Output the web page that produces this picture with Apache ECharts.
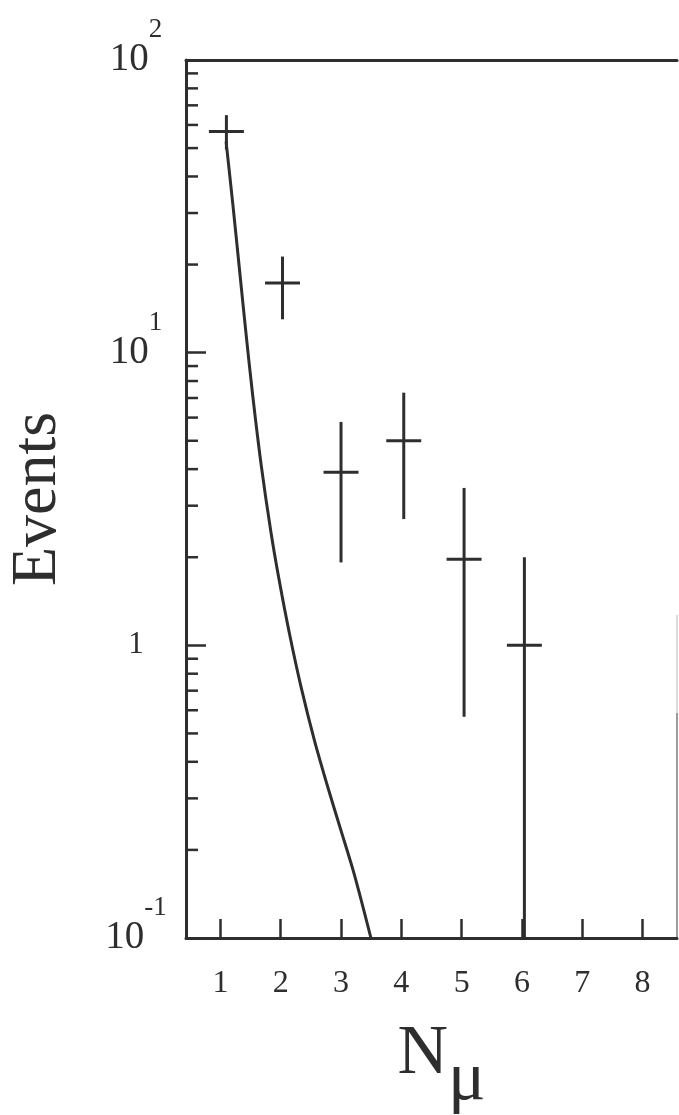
<!DOCTYPE html>
<html>
<head>
<meta charset="utf-8">
<script src="https://cdn.jsdelivr.net/npm/echarts@6/dist/echarts.min.js"></script>
<style>
  html, body { margin: 0; padding: 0; background: #fff; }
  #chart { width: 679px; height: 1115px; }
</style>
</head>
<body>
<div id="chart"></div>
<script>
// Muon multiplicity: observed events (with error bars) and expected curve
const nMu      = [1.1, 2.03, 3.0, 4.04, 5.04, 6.04];
const events   = [57, 17.3, 3.9, 5.0, 1.97, 1.0];
const errLow   = [49.4, 13.0, 1.92, 2.7, 0.57, 0];
const errHigh  = [64.8, 21.3, 5.8, 7.3, 3.45, 2.0];

// expected distribution
const curveX = [1.0945, 1.204, 1.315, 1.426, 1.536, 1.675, 1.841, 1.978,
                2.144, 2.343, 2.559, 2.774, 2.990, 3.222, 3.496];
const curveY = [52.6, 32.5, 19.39, 11.57, 7.14, 4.154, 2.415, 1.655,
                1.100, 0.7125, 0.4735, 0.3312, 0.2364, 0.1644, 0.1];

const xTicks = [1, 2, 3, 4, 5, 6, 7, 8];
const yMinorTicks = [0.2, 0.3, 0.4, 0.5, 0.6, 0.7, 0.8, 0.9,
                     2, 3, 4, 5, 6, 7, 8, 9,
                     20, 30, 40, 50, 60, 70, 80, 90];

const X_MIN = 0.43, X_MAX = 8.57;
const BAR_HALF = 0.29;
const INK = '#2e2e2e';
const SERIF = "'Liberation Serif', 'DejaVu Serif', serif";

const chart = echarts.init(document.getElementById('chart'), null, { renderer: 'canvas' });

const option = {
  backgroundColor: '#fff',
  animation: false,
  grid: { left: 186, right: 2, top: 60, bottom: 177, containLabel: false, outerBoundsMode: 'none' },
  xAxis: [{
    type: 'value',
    min: X_MIN,
    max: X_MAX,
    position: 'bottom',
    axisLine: { lineStyle: { color: INK, width: 3 } },
    axisTick: { inside: true, length: 19, lineStyle: { color: INK, width: 2.5 }, customValues: xTicks },
    axisLabel: { customValues: xTicks, fontFamily: SERIF, fontSize: 32, color: INK, margin: 30 },
    splitLine: { show: false },
    name: '{n|N}{m|μ}',
    nameLocation: 'middle',
    nameGap: 108,
    nameTextStyle: {
      fontFamily: SERIF,
      color: INK,
      rich: {
        n: { fontFamily: SERIF, fontSize: 70, lineHeight: 70, color: INK, verticalAlign: 'bottom', padding: [0, 0, 26, 20] },
        m: { fontFamily: SERIF, fontSize: 70, lineHeight: 70, color: INK, verticalAlign: 'bottom' }
      }
    }
  }, {
    type: 'value',
    min: X_MIN,
    max: X_MAX,
    position: 'top',
    axisLine: { lineStyle: { color: INK, width: 3 } },
    axisTick: { show: false },
    axisLabel: { show: false },
    splitLine: { show: false }
  }],
  yAxis: {
    type: 'log',
    logBase: 10,
    min: 0.1,
    max: 100,
    axisLine: { show: true, lineStyle: { color: INK, width: 3 } },
    axisTick: { inside: true, length: 20, lineStyle: { color: INK, width: 2.5 } },
    splitLine: { show: false },
    axisLabel: {
      align: 'center',
      margin: 50,
      color: INK,
      fontFamily: SERIF,
      formatter: function (v) {
        const e = Math.round(Math.log10(v));
        if (e === 0) return '{one|1}';
        return '{b|10}{e|' + e + '}';
      },
      rich: {
        one: { fontFamily: SERIF, fontSize: 31, lineHeight: 31, color: INK },
        b: { fontFamily: SERIF, fontSize: 39, lineHeight: 87, color: INK, verticalAlign: 'middle' },
        e: { fontFamily: SERIF, fontSize: 27, lineHeight: 27, color: INK, verticalAlign: 'top' }
      }
    },
    name: 'Events',
    nameLocation: 'middle',
    nameGap: 116,
    nameTextStyle: { fontFamily: SERIF, fontSize: 64, color: INK }
  },
  series: [{
    // expected curve
    type: 'line',
    data: curveX.map((x, i) => [x, curveY[i]]),
    showSymbol: false,
    symbol: 'none',
    smooth: 0.3,
    clip: true,
    lineStyle: { color: INK, width: 3 }
  }, {
    // data points with error bars
    type: 'custom',
    encode: { x: 0, y: 1 },
    data: nMu.map((x, i) => [x, events[i], errLow[i], errHigh[i]]),
    renderItem: function (params, api) {
      const x = api.value(0), y = api.value(1), lo = api.value(2), hi = api.value(3);
      const cs = params.coordSys;
      const c = api.coord([x, y]);
      const top = api.coord([x, hi])[1];
      const bottom = lo > 0 ? api.coord([x, lo])[1] : cs.y + cs.height;
      const left = api.coord([x - BAR_HALF, y])[0];
      const right = api.coord([x + BAR_HALF, y])[0];
      const style = { stroke: INK, lineWidth: 3 };
      return {
        type: 'group',
        children: [
          { type: 'line', shape: { x1: c[0], y1: top, x2: c[0], y2: bottom }, style: style },
          { type: 'line', shape: { x1: left, y1: c[1], x2: right, y2: c[1] }, style: style }
        ]
      };
    }
  }, {
    // minor ticks of the logarithmic axis
    type: 'custom',
    encode: { x: 0, y: 1 },
    silent: true,
    data: yMinorTicks.map(v => [X_MIN, v]),
    renderItem: function (params, api) {
      const cs = params.coordSys;
      const yy = api.coord([X_MIN, api.value(1)])[1];
      return {
        type: 'line',
        shape: { x1: cs.x, y1: yy, x2: cs.x + 12, y2: yy },
        style: { stroke: INK, lineWidth: 2.5 }
      };
    }
  }],
  graphic: [
    { type: 'line', shape: { x1: 677, y1: 615, x2: 677, y2: 713 }, style: { stroke: '#cfcfcf', lineWidth: 1.5 } },
    { type: 'line', shape: { x1: 677, y1: 713, x2: 677, y2: 938 }, style: { stroke: '#7a7a7a', lineWidth: 1.5 } }
  ]
};

chart.setOption(option);
</script>
</body>
</html>
